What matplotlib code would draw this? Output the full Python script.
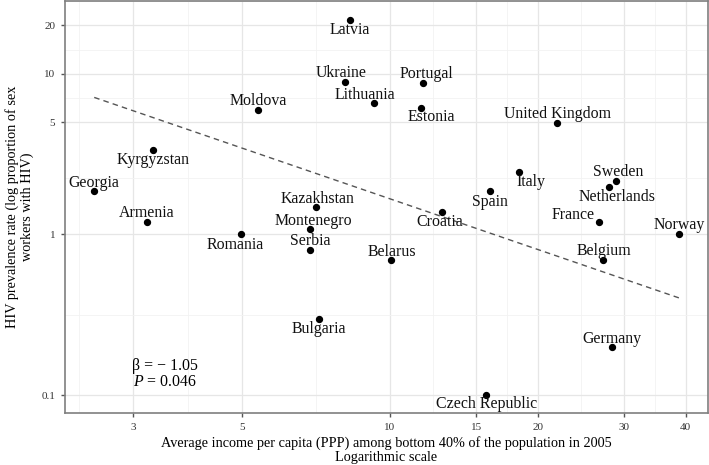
import numpy as np
import matplotlib
matplotlib.use('Agg')
import matplotlib.pyplot as plt
from matplotlib.ticker import FixedLocator, NullFormatter

plt.rcParams['font.family'] = ['Liberation Serif', 'DejaVu Serif']
plt.rcParams['mathtext.fontset'] = 'custom'
plt.rcParams['mathtext.it'] = 'Liberation Serif:italic'
plt.rcParams['mathtext.rm'] = 'Liberation Serif'

# data
countries = ['Latvia', 'Ukraine', 'Lithuania', 'Portugal', 'Estonia', 'United Kingdom',
             'Moldova', 'Kyrgyzstan', 'Georgia', 'Armenia', 'Kazakhstan', 'Montenegro',
             'Romania', 'Serbia', 'Bulgaria', 'Belarus', 'Croatia', 'Spain', 'Italy',
             'Sweden', 'Netherlands', 'France', 'Norway', 'Belgium', 'Germany',
             'Czech Republic']
income = [8.28, 8.09, 9.27, 11.67, 11.56, 21.9,
          5.39, 3.30, 2.50, 3.20, 7.08, 6.88,
          4.98, 6.88, 7.18, 10.07, 12.77, 15.97, 18.3,
          28.8, 27.9, 26.7, 38.8, 27.2, 28.3,
          15.7]
hiv = [21.6, 8.83, 6.61, 8.75, 6.09, 4.91,
       5.98, 3.34, 1.876, 1.19, 1.486, 1.085,
       1.0, 0.796, 0.298, 0.696, 1.38, 1.876, 2.46,
       2.165, 1.98, 1.19, 1.0, 0.696, 0.1995,
       0.1]
fit_x = [2.50, 38.8]
fit_y = [7.13, 0.402]
x_ticks = [3, 5, 10, 15, 20, 30, 40]
y_ticks = [0.1, 1, 5, 10, 20]

# label offsets in pixels (dx, dy)
offsets = {
    'Latvia': (0, -10), 'Ukraine': (-4, 9), 'Lithuania': (-9, 8), 'Portugal': (4, 9),
    'Estonia': (10, -9), 'United Kingdom': (0, 9), 'Moldova': (0, 9),
    'Kyrgyzstan': (0, -10), 'Georgia': (0, 8), 'Armenia': (0, 9),
    'Kazakhstan': (1, 8), 'Montenegro': (3, 8), 'Romania': (-6, -11),
    'Serbia': (0, 9), 'Bulgaria': (0, -10), 'Belarus': (0, 8), 'Croatia': (-2, -10),
    'Spain': (0, -11), 'Italy': (12, -10), 'Sweden': (3, 9), 'Netherlands': (8, -10),
    'France': (-26, 7), 'Norway': (0, 9), 'Belgium': (0, 9), 'Germany': (0, 8),
    'Czech Republic': (0, -9),
}

fig = plt.figure(figsize=(7.09, 4.65), dpi=100)
ax = fig.add_axes([65 / 709, 52 / 465, 643 / 709, 412 / 465])
ax.set_xscale('log')
ax.set_yscale('log')
ax.set_xlim(2.18, 44.4)
ax.set_ylim(0.0773, 28.4)

# grid like ggplot theme_bw
xl = np.log10(x_ticks)
x_minor = 10 ** np.concatenate([[xl[0] - (xl[1] - xl[0]) / 2], (xl[:-1] + xl[1:]) / 2])
yl = np.log10(y_ticks)
y_minor = 10 ** np.concatenate([(yl[:-1] + yl[1:]) / 2, [yl[-1] + (yl[-1] - yl[-2]) / 2]])
ax.xaxis.set_major_locator(FixedLocator(x_ticks))
ax.xaxis.set_minor_locator(FixedLocator(x_minor))
ax.yaxis.set_major_locator(FixedLocator(y_ticks))
ax.yaxis.set_minor_locator(FixedLocator(y_minor))
ax.set_xticklabels([str(t) for t in x_ticks])
ax.set_yticklabels(['0.1', '1', '5', '10', '20'])
ax.xaxis.set_minor_formatter(NullFormatter())
ax.yaxis.set_minor_formatter(NullFormatter())
ax.grid(True, which='major', color='#e6e6e6', lw=0.9)
ax.grid(True, which='minor', color='#f2f2f2', lw=0.6)
ax.set_axisbelow(True)
ax.tick_params(which='major', length=3, width=1, color='#555555', labelsize=8, pad=4,
               labelcolor='#333333')
ax.tick_params(which='minor', length=0)
for s in ax.spines.values():
    s.set_color('#7f7f7f')
    s.set_linewidth(1.2)

ax.plot(fit_x, fit_y, ls=(0, (4, 3)), color='#555555', lw=1, zorder=2)
ax.scatter(income, hiv, s=18, color='black', zorder=3)

for c, xv, yv in zip(countries, income, hiv):
    dx, dy = offsets[c]
    ax.annotate(c, (xv, yv), xytext=(dx * 0.72, dy * 0.72), textcoords='offset points',
                ha='center', va='center', fontsize=11.4, color='#111111')

ax.text(165 / 709, 1 - 366 / 465, 'β = − 1.05', transform=fig.transFigure,
        ha='center', va='center', fontsize=11.4)
ax.text(165 / 709, 1 - 382 / 465, '$P$ = 0.046', transform=fig.transFigure,
        ha='center', va='center', fontsize=11.4)

ax.set_xlabel('Average income per capita (PPP) among bottom 40% of the population in 2005\n'
              'Logarithmic scale', fontsize=10.3, linespacing=1.1, labelpad=3)
ax.set_ylabel('HIV prevalence rate (log proportion of sex\nworkers with HIV)', fontsize=10.3,
              linespacing=1.2, labelpad=5)

fig.savefig('out.png', dpi=100)
